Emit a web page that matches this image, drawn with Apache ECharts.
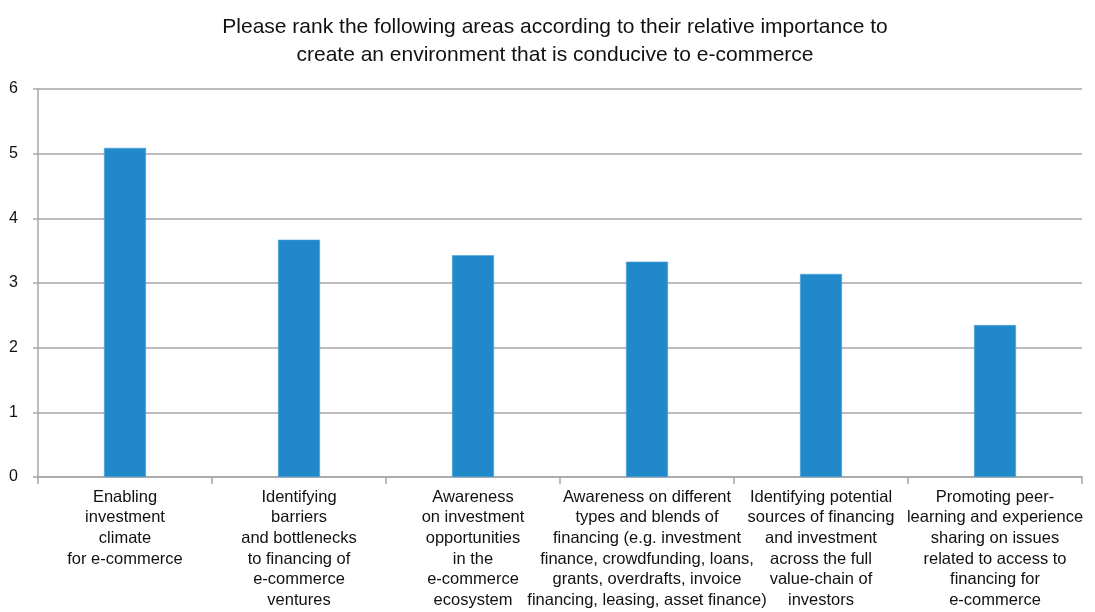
<!DOCTYPE html>
<html>
<head>
<meta charset="utf-8">
<script src="https://cdn.jsdelivr.net/npm/echarts@6/dist/echarts.min.js"></script>
<style>
  html, body { margin: 0; padding: 0; background: #ffffff; }
  #chart { width: 1095px; height: 612px; }
</style>
</head>
<body>
<div id="chart"></div>
<script>
// Survey areas (x-axis categories, with manual line breaks)
const categories = [
  'Enabling\ninvestment\nclimate\nfor e-commerce',
  'Identifying\nbarriers\nand bottlenecks\nto financing of\ne-commerce\nventures',
  'Awareness\non investment\nopportunities\nin the\ne-commerce\necosystem',
  'Awareness on different\ntypes and blends of\nfinancing (e.g. investment\nfinance, crowdfunding, loans,\ngrants, overdrafts, invoice\nfinancing, leasing, asset finance)',
  'Identifying potential\nsources of financing\nand investment\nacross the full\nvalue-chain of\ninvestors',
  'Promoting peer-\nlearning and experience\nsharing on issues\nrelated to access to\nfinancing for\ne-commerce'
];

// Average importance score per area
const scores = [5.09, 3.67, 3.43, 3.33, 3.14, 2.35];

// Value-axis range
const yMin = 0;
const yMax = 6;
const yStep = 1;

const titleText = 'Please rank the following areas according to their relative importance to\ncreate an environment that is conducive to e-commerce';

const font = '"Liberation Sans", Arial, sans-serif';
const gridGray = '#a6a6a6';

const chart = echarts.init(document.getElementById('chart'), null, { renderer: 'canvas' });

chart.setOption({
  animation: false,
  backgroundColor: '#ffffff',
  title: {
    text: titleText,
    left: 555,
    top: 13,
    textAlign: 'center',
    padding: 0,
    textStyle: {
      fontFamily: font,
      fontWeight: 'normal',
      fontSize: 21,
      lineHeight: 28,
      color: '#111111'
    }
  },
  grid: {
    left: 38,
    right: 13,
    top: 89,
    bottom: 135,
    containLabel: false
  },
  xAxis: {
    type: 'category',
    data: categories,
    boundaryGap: true,
    axisLine: { show: true, lineStyle: { color: gridGray, width: 1.5 } },
    axisTick: {
      show: true,
      alignWithLabel: false,
      length: 7,
      lineStyle: { color: gridGray, width: 1.5 }
    },
    axisLabel: {
      interval: 0,
      margin: 10,
      fontFamily: font,
      fontSize: 16.5,
      lineHeight: 20.6,
      color: '#111111'
    }
  },
  yAxis: {
    type: 'value',
    min: yMin,
    max: yMax,
    interval: yStep,
    axisLine: { show: true, lineStyle: { color: gridGray, width: 1.5 } },
    axisTick: { show: true, length: 5, lineStyle: { color: gridGray, width: 1.5 } },
    splitLine: { show: true, lineStyle: { color: gridGray, width: 1.5 } },
    axisLabel: {
      margin: 20,
      fontFamily: font,
      fontSize: 16,
      color: '#111111'
    }
  },
  series: [{
    type: 'bar',
    data: scores,
    barWidth: 42,
    itemStyle: {
      color: '#2188c9',
      borderColor: '#4aa3dc',
      borderWidth: 0.6
    }
  }]
});
</script>
</body>
</html>
